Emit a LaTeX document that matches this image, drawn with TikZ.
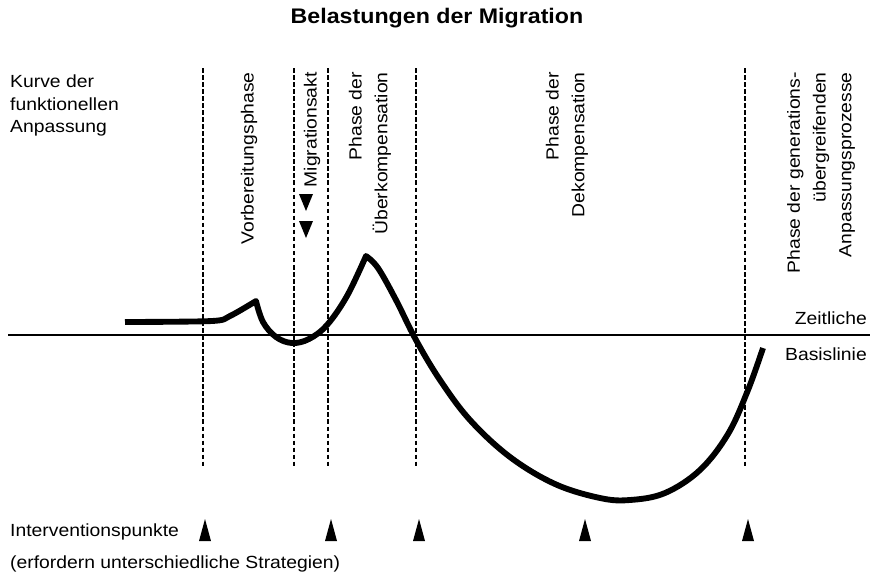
\documentclass[tikz,border=0pt]{standalone}
\usepackage{fontspec}
\setmainfont[FakeStretch=1.1]{Liberation Sans}
\usepackage{tikz}
\usetikzlibrary{positioning}

\begin{document}
\begin{tikzpicture}[
    x=0.03cm, y=-0.03cm,
    phase/.style={rotate=90, anchor=east, align=right, inner sep=0pt, font=\fontsize{15}{22}\selectfont},
    label/.style={inner sep=0pt, font=\fontsize{15}{19}\selectfont},
    border/.style={line width=1.1pt, dash pattern=on 4pt off 2pt},
    curve/.style={line width=5pt, line join=round},
    marker/.style={fill=black, draw=none}
]
\useasboundingbox (0,0) rectangle (870,576);

% Title
\node[font=\fontsize{18}{20}\selectfont\bfseries] (title) at (437,18) {Belastungen der Migration};

% Left caption
\node[label, anchor=north west, align=left] (kurve) at (10,75) {Kurve der\\funktionellen\\Anpassung};

% Phase borders
\foreach \x [count=\i] in {203,294,328,416,745}
    \draw[border] (\x,68) coordinate (top\i) -- (\x,466) coordinate (bot\i);

% Time axis
\coordinate (axisL) at (8,335);
\coordinate (axisR) at (870,335);
\draw[line width=1.3pt] (axisL) -- (axisR);
\node[label, anchor=east] (zeit) at (867,318) {Zeitliche};
\node[label, anchor=east] (basis) at (867,354) {Basislinie};

% Phases
\node[phase] (vorb) at (249,72) {Vorbereitungsphase};
\node[phase] (migr) at (312,72) {Migrationsakt};
\node[phase] (ueber) at (370,72) {Phase der\\Überkompensation};
\node[phase] (dekomp) at (567,72) {Phase der\\Dekompensation};
\node[phase] (gener) at (821,72) {Phase der generations-\\übergreifenden\\Anpassungsprozesse};

% Markers of migration act
\foreach \y in {194,221}
    \fill[marker] (299,\y) -- (313,\y) -- (306,\y+17) -- cycle;

% Adaptation curve
\draw[curve] plot[smooth, tension=0.5] coordinates {(125,322) (212,321) (230,316) (256,301)}
    -- plot[smooth, tension=0.6] coordinates {(256,301) (263,322) (276,337) (292,343) (309,339) (327,325) (347,296) (366,256)}
    -- plot[smooth, tension=0.6] coordinates {(366,256) (378,268) (396,300) (416,340) (440,380) (470,420) (510,457) (555,484) (600,498) (630,500) (665,493) (700,470) (728,434) (748,390) (763,348)};

% Intervention points
\foreach \x [count=\i] in {205,331,419,585,748}
    \fill[marker] (\x-6,541) -- (\x+6,541) -- (\x,519) -- cycle;

\node[label, anchor=west] (interv) at (10,532) {Interventionspunkte};
\node[label, anchor=west] (strat) at (10,564) {(erfordern unterschiedliche Strategien)};

\end{tikzpicture}
\end{document}
